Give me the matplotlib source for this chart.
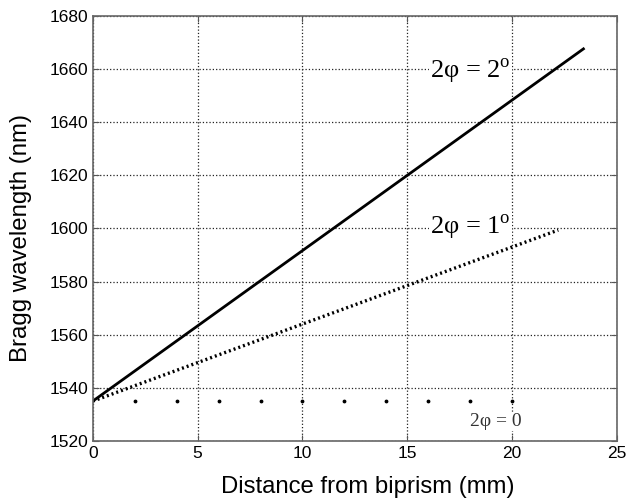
import numpy as np
import matplotlib.pyplot as plt

plt.rcParams['font.family'] = ['Liberation Sans', 'DejaVu Sans']
plt.rcParams['mathtext.fontset'] = 'custom'
plt.rcParams['mathtext.rm'] = 'Liberation Serif'

# Bragg wavelength vs distance for three biprism angles
x_2deg = [0.0, 23.4]
y_2deg = [1535.0, 1667.6]
x_1deg = [0.0, 22.2]
y_1deg = [1535.0, 1599.4]
x_0deg = [2, 4, 6, 8, 10, 12, 14, 16, 18, 20]
y_0deg = [1535.0] * len(x_0deg)

fig = plt.figure(figsize=(6.27, 4.98), dpi=100)
ax = fig.add_axes([0.148, 0.1145, 0.836, 0.8535])

ax.plot(x_2deg, y_2deg, color='black', lw=2.0)
ax.plot(x_1deg, y_1deg, color='black', lw=2.4, ls=(0, (0.6, 0.9)))
ax.plot(x_0deg, y_0deg, 'k.', ms=3.5)

serif = 'Liberation Serif'
ax.text(18.0, 1659, r'2φ = 2$^{\mathrm{o}}$', family=serif, fontsize=19,
        ha='center', va='center',
        bbox=dict(facecolor='white', edgecolor='none', pad=1))
ax.text(18.0, 1600.5, r'2φ = 1$^{\mathrm{o}}$', family=serif, fontsize=19,
        ha='center', va='center',
        bbox=dict(facecolor='white', edgecolor='none', pad=1))
ax.text(19.2, 1527.2, '2φ = 0', family=serif, fontsize=14,
        ha='center', va='center', color='#333333',
        bbox=dict(facecolor='white', edgecolor='none', pad=0.5))

ax.set_xlim(0, 25)
ax.set_ylim(1520, 1680)
ax.set_xticks(np.arange(0, 26, 5))
ax.set_yticks(np.arange(1520, 1681, 20))
ax.grid(True, color='#222222', ls=':', lw=0.9)
ax.set_axisbelow(True)
ax.tick_params(direction='in', labelsize=12.5, length=4, top=True, right=True,
               color='#555555')
for s in ax.spines.values():
    s.set_color('#666666')
    s.set_linewidth(1.2)

ax.set_xlabel('Distance from biprism (mm)', fontsize=17.2)
ax.set_ylabel('Bragg wavelength (nm)', fontsize=17.3)
ax.xaxis.set_label_coords(0.524, -0.083)
ax.yaxis.set_label_coords(-0.116, 0.478)

fig.savefig('out.png', dpi=100)
